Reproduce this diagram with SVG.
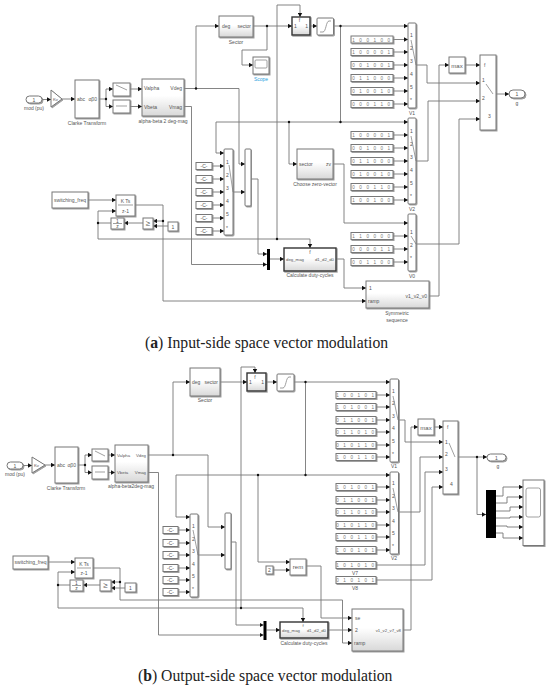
<svg xmlns="http://www.w3.org/2000/svg" width="550" height="689" viewBox="0 0 550 689">
<style>
text{font-family:"Liberation Sans",Arial,sans-serif;font-size:5px;fill:#555}
.m{text-anchor:middle}.e{text-anchor:end}
.s{font-size:4.3px}
.k{letter-spacing:1.6px;font-size:4.6px;text-anchor:middle;fill:#777}
.b{fill:#fff;stroke:#777;stroke-width:1;filter:url(#sh)}
.g{fill:url(#gr);stroke:#777;stroke-width:1;filter:url(#sh)}
.t{fill:url(#gr);stroke:#333;stroke-width:1.4;filter:url(#sh)}
.i{fill:#fff;stroke:#888;stroke-width:.8}
.d{fill:none;stroke:#777;stroke-width:.7}
.bk{fill:#000;stroke:none}
.c path{fill:none;stroke:#777;stroke-width:.9}
.c path.a{marker-end:url(#ar)}
.c circle{fill:#111;stroke:none}
.cap text{font-family:"Liberation Serif","Times New Roman",serif;font-size:15.7px;fill:#222}
.cap .bd{font-weight:bold}
.blue{fill:#2a9fe0}
</style>
<defs>
<linearGradient id="gr" x1="0" y1="0" x2="0" y2="1"><stop offset="0" stop-color="#fff"/><stop offset=".45" stop-color="#fff"/><stop offset="1" stop-color="#d8d8d8"/></linearGradient>
<filter id="sh" x="-10%" y="-10%" width="125%" height="125%"><feDropShadow dx="1" dy="1" stdDeviation=".4" flood-color="#888" flood-opacity=".8"/></filter>
<marker id="ar" markerUnits="userSpaceOnUse" markerWidth="5" markerHeight="5" refX="4" refY="2.5" orient="auto"><path d="M0 .3L4 2.5L0 4.7z" fill="#111"/></marker>
</defs>
<rect width="550" height="689" fill="#fff"/>

<g id="connectors" class="c">
<path class="a" d="M42 99.500H51"/>
<path class="a" d="M62 99H75"/>
<path d="M99 99H106"/>
<path class="a" d="M106 99V89H113"/>
<path class="a" d="M106 99V106.500H113"/>
<path class="a" d="M130 89H142"/>
<path class="a" d="M130 106.500H142"/>
<path class="a" d="M184 88.500H239V164H245"/>
<path class="a" d="M196 88.500V26H219"/>
<path class="a" d="M184 106.500H191.500V264.500H267"/>
<path class="a" d="M253 26H292"/>
<path class="a" d="M267 26V50H242V65H253"/>
<path class="a" d="M277 239V5H300V17"/>
<path class="a" d="M310 26H317"/>
<path class="a" d="M333.500 26H408"/>
<path d="M340.500 26V122"/>
<path class="a" d="M216 122V153H224"/>
<path class="a" d="M216 122H408"/>
<path class="a" d="M289 122V164H297"/>
<path class="a" d="M333 164H344V223H408"/>
<path class="a" d="M98 239H310V248"/>
<path class="a" d="M98 239V211H116"/>
<path d="M98 223H111"/>
<path class="a" d="M88 200H116"/>
<path class="a" d="M135 205H163V301H366"/>
<path class="a" d="M163 221H153"/>
<path class="a" d="M168 226H153"/>
<path class="a" d="M143 223H124"/>
<path class="a" d="M212 166H224"/><path class="a" d="M212 179H224"/><path class="a" d="M212 192H224"/><path class="a" d="M212 205H224"/><path class="a" d="M212 218H224"/><path class="a" d="M212 231H224"/>
<path class="a" d="M233 192H245"/>
<path class="a" d="M251 179H258V254H267"/>
<path class="a" d="M270 259H284"/>
<path class="a" d="M336 259H344V288H366"/>
<path class="a" d="M429 296H439V65H449"/>
<path class="a" d="M465 65H480"/>
<path class="a" d="M416 65H427V83H480"/>
<path class="a" d="M416 161H428V101H480"/>
<path class="a" d="M416 244H459V119H480"/>
<path class="a" d="M496 94H509"/>
<path class="a" d="M393 39.500H408"/><path class="a" d="M393 52H408"/><path class="a" d="M393 65H408"/><path class="a" d="M393 78H408"/><path class="a" d="M393 91H408"/><path class="a" d="M393 104H408"/>
<path class="a" d="M393 135H408"/><path class="a" d="M393 148H408"/><path class="a" d="M393 161H408"/><path class="a" d="M393 174H408"/><path class="a" d="M393 187H408"/><path class="a" d="M393 200H408"/>
<path class="a" d="M393 236H408"/><path class="a" d="M393 249H408"/><path class="a" d="M393 262H408"/>
<circle cx="106" cy="99" r="1.200"/><circle cx="196" cy="88.500" r="1.200"/><circle cx="267" cy="26" r="1.200"/><circle cx="340.500" cy="26" r="1.200"/><circle cx="340.500" cy="122" r="1.200"/><circle cx="289" cy="122" r="1.200"/><circle cx="277" cy="239" r="1.200"/><circle cx="98" cy="223" r="1.200"/><circle cx="163" cy="221" r="1.200"/>
<path class="a" d="M23 465.500H32"/>
<path class="a" d="M45 465H55"/>
<path d="M78 465H85"/>
<path class="a" d="M85 465V455H92"/>
<path class="a" d="M85 465V472.500H92"/>
<path class="a" d="M108 455H115"/>
<path class="a" d="M108 472.500H115"/>
<path class="a" d="M148 455H208V527H225"/>
<path class="a" d="M173 455V382H190"/>
<path class="a" d="M148 472.500H158.500V635H263.500"/>
<path class="a" d="M220 382H247"/>
<path class="a" d="M241 608V367H255V373"/>
<path class="a" d="M266 382H277"/>
<path class="a" d="M294 382H390"/>
<path d="M305.500 382V475"/>
<path class="a" d="M176 475V517H190"/>
<path class="a" d="M176 475H390"/>
<path class="a" d="M258 475V562H290"/>
<path class="a" d="M273 570H290"/>
<path class="a" d="M306 566H321V618H352"/>
<path class="a" d="M58 608H303V622"/>
<path class="a" d="M58 608V572H75"/>
<path d="M58 585H70"/>
<path class="a" d="M48 562H75"/>
<path class="a" d="M93 568H120V600H342.500V643H352"/>
<path class="a" d="M120 582H111"/>
<path class="a" d="M125 588H111"/>
<path class="a" d="M100 585H83"/>
<path class="a" d="M178 530H190"/><path class="a" d="M178 543H190"/><path class="a" d="M178 555H190"/><path class="a" d="M178 568H190"/><path class="a" d="M178 580H190"/><path class="a" d="M178 592H190"/>
<path class="a" d="M198 555H225"/>
<path class="a" d="M231 542H236V625H263.500"/>
<path class="a" d="M266.500 630H280"/>
<path class="a" d="M328 630H352"/>
<path class="a" d="M403 630H411V427H418"/>
<path class="a" d="M434 427H443"/>
<path class="a" d="M398 420H405V442H443"/>
<path class="a" d="M398 512H420V457H443"/>
<path class="a" d="M376 565H425V472H443"/>
<path class="a" d="M376 580H432V487H443"/>
<path class="a" d="M458 457H487"/>
<path class="a" d="M477 457V514.500H486"/>
<path class="a" d="M496 496H503V487H523"/>
<path class="a" d="M496 503H507V497H523"/>
<path class="a" d="M496 511H510V507H523"/>
<path class="a" d="M496 518H510V517H523"/>
<path class="a" d="M496 526H507V527H523"/>
<path class="a" d="M496 533H503V538H523"/>
<path class="a" d="M376 395H390"/><path class="a" d="M376 407H390"/><path class="a" d="M376 420H390"/><path class="a" d="M376 432H390"/><path class="a" d="M376 445H390"/><path class="a" d="M376 457H390"/>
<path class="a" d="M376 487H390"/><path class="a" d="M376 500H390"/><path class="a" d="M376 512H390"/><path class="a" d="M376 525H390"/><path class="a" d="M376 537H390"/><path class="a" d="M376 550H390"/>
<circle cx="85" cy="465" r="1.200"/><circle cx="173" cy="455" r="1.200"/><circle cx="305.500" cy="382" r="1.200"/><circle cx="305.500" cy="475" r="1.200"/><circle cx="258" cy="475" r="1.200"/><circle cx="241" cy="608" r="1.200"/><circle cx="58" cy="585" r="1.200"/><circle cx="120" cy="582" r="1.200"/><circle cx="477" cy="457" r="1.200"/>
</g>

<g id="a-inport"><rect class="b" x="26" y="96" width="16" height="7" rx="3.500"/><text class="m" x="34" y="101.500">1</text><text class="m" x="34" y="110">mod (pu)</text></g>
<g id="a-gain"><path class="b" d="M51 90L62 99L51 107z"/><text x="53" y="101" class="s">Kv</text></g>
<g id="a-clarke"><rect class="b" x="75" y="80" width="24" height="38"/><text x="77" y="101">abc</text><text class="e" x="97" y="101">αβ0</text><text class="m" x="87" y="124.500">Clarke Transform</text></g>
<g id="a-sw1"><rect class="b" x="113" y="83" width="17" height="13"/><path class="d" d="M116 85L127 90"/></g>
<g id="a-sw2"><rect class="b" x="113" y="100" width="17" height="13"/><path class="d" d="M116 106H127"/></g>
<g id="a-alpha"><rect class="g" x="142" y="79" width="42" height="37"/><text x="144" y="90">Valpha</text><text x="144" y="108.500">Vbeta</text><text class="e" x="182" y="90">Vdeg</text><text class="e" x="182" y="108.500">Vmag</text><text class="m" x="163" y="123">alpha-beta 2 deg-mag</text></g>
<g id="a-sector"><rect class="g" x="219" y="16" width="34" height="21"/><text x="222" y="28">deg</text><text class="e" x="251" y="28">sector</text><text class="m" x="236" y="43.500">Sector</text></g>
<g id="a-scope"><rect class="b" x="253" y="57" width="16" height="17"/><rect class="i" x="255" y="60" width="12" height="8" rx="1"/><text class="m blue" x="261" y="80.500">Scope</text></g>
<g id="a-switch"><rect class="t" x="292" y="17" width="18" height="18"/><text x="294" y="28">1</text><text class="e" x="308" y="28">1</text><text class="m" x="299.500" y="22">f</text></g>
<g id="a-sat"><rect class="b" x="317" y="18" width="16.500" height="17" rx="1"/><path class="d" d="M320 32H323C326 32 326 21 329 21H331"/></g>
<g id="a-mux1"><rect class="b" x="224" y="149" width="9" height="86" rx="1"/><text x="226" y="164">1</text><text x="226" y="177">2</text><text x="226" y="190">3</text><text x="226" y="203">4</text><text x="226" y="216">5</text><text x="226" y="230">*</text><path class="d" d="M229 165L233 192"/></g>
<g id="a-cc1"><rect class="b" x="196" y="162.500" width="16" height="7"/><text class="m" x="204" y="168">-C-</text></g>
<g id="a-cc2"><rect class="b" x="196" y="175.500" width="16" height="7"/><text class="m" x="204" y="181">-C-</text></g>
<g id="a-cc3"><rect class="b" x="196" y="188.500" width="16" height="7"/><text class="m" x="204" y="194">-C-</text></g>
<g id="a-cc4"><rect class="b" x="196" y="201.500" width="16" height="7"/><text class="m" x="204" y="207">-C-</text></g>
<g id="a-cc5"><rect class="b" x="196" y="214.500" width="16" height="7"/><text class="m" x="204" y="220">-C-</text></g>
<g id="a-cc6"><rect class="b" x="196" y="227.500" width="16" height="7"/><text class="m" x="204" y="233">-C-</text></g>
<g id="a-mux2"><rect class="b" x="245" y="149" width="6" height="57" rx="1"/></g>
<g id="a-bus"><rect class="bk" x="267" y="249" width="3" height="21"/></g>
<g id="a-duty"><rect class="t" x="284" y="248" width="52" height="23"/><text class="s" x="286" y="261">deg_mag</text><text class="e s" x="334" y="261">d1_d2_d0</text><text class="m" x="310" y="254">f</text><text class="m" x="310" y="277">Calculate duty-cycles</text></g>
<g id="a-zero"><rect class="g" x="297" y="149" width="36" height="30"/><text x="299" y="166">sector</text><text class="e" x="331" y="166">zv</text><text class="m" x="315" y="186">Choose zero-vector</text></g>
<g id="a-sym"><rect class="g" x="366" y="281" width="63" height="27"/><text x="369" y="290">1</text><text x="368" y="303">ramp</text><text class="e" x="427" y="298">v1_v2_v0</text><text class="m" x="397" y="315">Symmetric</text><text class="m" x="397" y="322">sequence</text></g>
<g id="a-switching"><rect class="b" x="52" y="192" width="36" height="16"/><text class="m" x="70" y="201.500">switching_freq</text></g>
<g id="a-integ"><rect class="b" x="116" y="195" width="19" height="21"/><text class="m" x="125.500" y="202.500">K Ts</text><path class="d" d="M118 205H133"/><text class="m" x="125.500" y="212.500">z-1</text></g>
<g id="a-unit"><rect class="b" x="111" y="218" width="13" height="11"/><text class="m" x="117.500" y="222.500">1</text><path class="d" d="M113 223.500H122"/><text class="m" x="117.500" y="228">z</text></g>
<g id="a-cmp"><rect class="b" x="143" y="218" width="10" height="11"/><text class="m" x="148" y="226" style="font-size:8px">≥</text></g>
<g id="a-one"><rect class="b" x="168" y="222" width="10" height="9"/><text class="m" x="173" y="228.500">1</text></g>
<g id="a-v1"><rect class="b" x="408" y="23" width="8" height="85" rx="1"/><text x="410" y="37">1</text><text x="410" y="50">2</text><text x="410" y="63">3</text><text x="410" y="76">4</text><text x="410" y="89">5</text><text x="410" y="102">*</text><path class="d" d="M411 40L416 65"/><text class="m" x="412" y="115">V1</text></g>
<g id="a-c1"><rect class="b" x="351" y="36" width="42" height="7"/><text class="k" x="372" y="41.500">1 0 0 1 0 0</text></g>
<g id="a-c2"><rect class="b" x="351" y="48.500" width="42" height="7"/><text class="k" x="372" y="54">1 0 0 0 0 1</text></g>
<g id="a-c3"><rect class="b" x="351" y="61.500" width="42" height="7"/><text class="k" x="372" y="67">0 0 1 0 0 1</text></g>
<g id="a-c4"><rect class="b" x="351" y="74.500" width="42" height="7"/><text class="k" x="372" y="80">0 1 1 0 0 0</text></g>
<g id="a-c5"><rect class="b" x="351" y="87.500" width="42" height="7"/><text class="k" x="372" y="93">0 1 0 0 1 0</text></g>
<g id="a-c6"><rect class="b" x="351" y="100.500" width="42" height="7"/><text class="k" x="372" y="106">0 0 0 1 1 0</text></g>
<g id="a-v2"><rect class="b" x="408" y="118" width="8" height="86" rx="1"/><text x="410" y="133">1</text><text x="410" y="146">2</text><text x="410" y="159">3</text><text x="410" y="172">4</text><text x="410" y="185">5</text><text x="410" y="198">*</text><path class="d" d="M411 136L416 161"/><text class="m" x="412" y="211">V2</text></g>
<g id="a-d1"><rect class="b" x="351" y="131.500" width="42" height="7"/><text class="k" x="372" y="137">1 0 0 0 0 1</text></g>
<g id="a-d2"><rect class="b" x="351" y="144.500" width="42" height="7"/><text class="k" x="372" y="150">0 0 1 0 0 1</text></g>
<g id="a-d3"><rect class="b" x="351" y="157.500" width="42" height="7"/><text class="k" x="372" y="163">0 1 1 0 0 0</text></g>
<g id="a-d4"><rect class="b" x="351" y="170.500" width="42" height="7"/><text class="k" x="372" y="176">0 1 0 0 1 0</text></g>
<g id="a-d5"><rect class="b" x="351" y="183.500" width="42" height="7"/><text class="k" x="372" y="189">0 0 0 1 1 0</text></g>
<g id="a-d6"><rect class="b" x="351" y="196.500" width="42" height="7"/><text class="k" x="372" y="202">1 0 0 1 0 0</text></g>
<g id="a-v0"><rect class="b" x="408" y="214" width="8" height="57" rx="1"/><text x="410" y="234">1</text><text x="410" y="247">2</text><text x="410" y="260">*</text><path class="d" d="M411 236L416 244"/><text class="m" x="412" y="278">V0</text></g>
<g id="a-e1"><rect class="b" x="351" y="232.500" width="42" height="7"/><text class="k" x="372" y="238">1 1 0 0 0 0</text></g>
<g id="a-e2"><rect class="b" x="351" y="245.500" width="42" height="7"/><text class="k" x="372" y="251">0 0 0 0 1 1</text></g>
<g id="a-e3"><rect class="b" x="351" y="258.500" width="42" height="7"/><text class="k" x="372" y="264">0 0 1 1 0 0</text></g>
<g id="a-max"><rect class="b" x="449" y="57" width="16" height="16"/><text class="m" x="457" y="67.500" style="font-size:6px">max</text></g>
<g id="a-out-sw"><rect class="b" x="480" y="55" width="16" height="75"/><text x="484" y="67">f</text><text x="482" y="82">1</text><text x="482" y="100">2</text><text x="488" y="118">3</text><path class="d" d="M486 84L493 94"/></g>
<g id="a-outport"><rect class="b" x="509" y="90" width="16" height="8" rx="4"/><text class="m" x="517" y="96">1</text><text class="m" x="517" y="105">g</text></g>

<g id="b-inport"><rect class="b" x="7" y="462" width="16" height="7" rx="3.500"/><text class="m" x="15" y="467.500">1</text><text class="m" x="15" y="476">mod (pu)</text></g>
<g id="b-gain"><path class="b" d="M32 457L45 465L32 473z"/><text x="34" y="467" class="s">Kv</text></g>
<g id="b-clarke"><rect class="b" x="55" y="447" width="23" height="36"/><text x="57" y="467">abc</text><text class="e" x="76" y="467">αβ0</text><text class="m" x="66" y="489.500">Clarke Transform</text></g>
<g id="b-sw1"><rect class="b" x="92" y="449" width="16" height="12"/><path class="d" d="M95 451L105 456"/></g>
<g id="b-sw2"><rect class="b" x="92" y="466" width="16" height="13"/><path class="d" d="M95 472H105"/></g>
<g id="b-alpha"><rect class="g" x="115" y="445" width="33" height="37"/><text class="s" x="117" y="457">Valpha</text><text class="s" x="117" y="474">Vbeta</text><text class="e s" x="146" y="457">Vdeg</text><text class="e s" x="146" y="474">Vmag</text><text class="m" x="131" y="488">alpha-beta2deg-mag</text></g>
<g id="b-sector"><rect class="g" x="190" y="368" width="30" height="28"/><text x="192" y="384">deg</text><text class="e" x="218" y="384">sector</text><text class="m" x="205" y="402">Sector</text></g>
<g id="b-switch"><rect class="t" x="247" y="373" width="19" height="18"/><text x="249" y="384">1</text><text class="e" x="264" y="384">1</text><text class="m" x="255" y="379">f</text></g>
<g id="b-sat"><rect class="b" x="277" y="374" width="17" height="17" rx="1"/><path class="d" d="M280 388H283C286 388 286 377 289 377H291"/></g>
<g id="b-mux1"><rect class="b" x="190" y="514" width="8" height="83" rx="1"/><text x="192" y="528">1</text><text x="192" y="541">2</text><text x="192" y="553">3</text><text x="192" y="566">4</text><text x="192" y="578">5</text><text x="192" y="591">*</text><path class="d" d="M193 530L198 555"/></g>
<g id="b-cc1"><rect class="b" x="163" y="526.500" width="15" height="7"/><text class="m" x="170.500" y="532">-C-</text></g>
<g id="b-cc2"><rect class="b" x="163" y="539.500" width="15" height="7"/><text class="m" x="170.500" y="545">-C-</text></g>
<g id="b-cc3"><rect class="b" x="163" y="551.500" width="15" height="7"/><text class="m" x="170.500" y="557">-C-</text></g>
<g id="b-cc4"><rect class="b" x="163" y="564.500" width="15" height="7"/><text class="m" x="170.500" y="570">-C-</text></g>
<g id="b-cc5"><rect class="b" x="163" y="576.500" width="15" height="7"/><text class="m" x="170.500" y="582">-C-</text></g>
<g id="b-cc6"><rect class="b" x="163" y="588.500" width="15" height="7"/><text class="m" x="170.500" y="594">-C-</text></g>
<g id="b-mux2"><rect class="b" x="225" y="513" width="6" height="56" rx="1"/></g>
<g id="b-bus"><rect class="bk" x="263.500" y="621" width="3" height="19"/></g>
<g id="b-duty"><rect class="t" x="280" y="622" width="48" height="16"/><text class="s" x="282" y="632">deg_mag</text><text class="e s" x="326" y="632">d1_d2_d0</text><text class="m s" x="303" y="627">f</text><text class="m" x="304" y="645">Calculate duty-cycles</text></g>
<g id="b-rem"><rect class="b" x="290" y="559" width="16" height="16"/><text class="m" x="298" y="568.500" style="font-size:6px">rem</text></g>
<g id="b-two"><rect class="b" x="266" y="566" width="7" height="8"/><text class="m" x="269.500" y="572">2</text></g>
<g id="b-sym"><rect class="g" x="352" y="609" width="51" height="42"/><text x="355" y="620">se</text><text x="355" y="632">2</text><text x="354" y="645">ramp</text><text class="e s" x="401" y="632">v1_v2_v7_v8</text></g>
<g id="b-switching"><rect class="b" x="13" y="556" width="35" height="13"/><text class="m" x="30.500" y="564">switching_freq</text></g>
<g id="b-integ"><rect class="b" x="75" y="558" width="18" height="20"/><text class="m" x="84" y="565.500">K Ts</text><path class="d" d="M77 568H91"/><text class="m" x="84" y="575">z-1</text></g>
<g id="b-unit"><rect class="b" x="70" y="580" width="13" height="11"/><text class="m" x="76.500" y="584.500">1</text><path class="d" d="M72 585.500H81"/><text class="m" x="76.500" y="590">z</text></g>
<g id="b-cmp"><rect class="b" x="100" y="580" width="11" height="11"/><text class="m" x="105.500" y="588" style="font-size:8px">≥</text></g>
<g id="b-one"><rect class="b" x="125" y="583" width="11" height="9"/><text class="m" x="130.500" y="589.500">1</text></g>
<g id="b-v1"><rect class="b" x="390" y="379" width="8.500" height="83" rx="1"/><text x="392" y="393">1</text><text x="392" y="405">2</text><text x="392" y="418">3</text><text x="392" y="430">4</text><text x="392" y="443">5</text><text x="392" y="456">*</text><path class="d" d="M393 396L398 420"/><text class="m" x="394" y="468">V1</text></g>
<g id="b-c1"><rect class="b" x="336" y="391.500" width="40" height="7"/><text class="k" x="356" y="397">1 0 0 1 0 1</text></g>
<g id="b-c2"><rect class="b" x="336" y="403.500" width="40" height="7"/><text class="k" x="356" y="409">1 0 1 0 0 1</text></g>
<g id="b-c3"><rect class="b" x="336" y="416.500" width="40" height="7"/><text class="k" x="356" y="422">0 1 1 0 0 1</text></g>
<g id="b-c4"><rect class="b" x="336" y="428.500" width="40" height="7"/><text class="k" x="356" y="434">0 1 1 0 1 0</text></g>
<g id="b-c5"><rect class="b" x="336" y="441.500" width="40" height="7"/><text class="k" x="356" y="447">0 1 0 1 1 0</text></g>
<g id="b-c6"><rect class="b" x="336" y="453.500" width="40" height="7"/><text class="k" x="356" y="459">1 0 0 1 1 0</text></g>
<g id="b-v2"><rect class="b" x="390" y="472" width="8.500" height="82" rx="1"/><text x="392" y="485">1</text><text x="392" y="498">2</text><text x="392" y="510">3</text><text x="392" y="523">4</text><text x="392" y="535">5</text><text x="392" y="548">*</text><path class="d" d="M393 488L398 512"/><text class="m" x="394" y="560">V2</text></g>
<g id="b-d1"><rect class="b" x="336" y="483.500" width="40" height="7"/><text class="k" x="356" y="489">1 0 1 0 0 1</text></g>
<g id="b-d2"><rect class="b" x="336" y="496.500" width="40" height="7"/><text class="k" x="356" y="502">0 1 1 0 0 1</text></g>
<g id="b-d3"><rect class="b" x="336" y="508.500" width="40" height="7"/><text class="k" x="356" y="514">0 1 1 0 1 0</text></g>
<g id="b-d4"><rect class="b" x="336" y="521.500" width="40" height="7"/><text class="k" x="356" y="527">0 1 0 1 1 0</text></g>
<g id="b-d5"><rect class="b" x="336" y="533.500" width="40" height="7"/><text class="k" x="356" y="539">1 0 0 1 1 0</text></g>
<g id="b-d6"><rect class="b" x="336" y="546.500" width="40" height="7"/><text class="k" x="356" y="552">1 0 0 1 0 1</text></g>
<g id="b-v7"><rect class="b" x="336" y="561.500" width="40" height="7"/><text class="k" x="356" y="567">1 0 1 0 1 0</text><text class="m" x="355" y="575">V7</text></g>
<g id="b-v8"><rect class="b" x="336" y="576.500" width="40" height="7"/><text class="k" x="356" y="582">0 1 0 1 0 1</text><text class="m" x="355" y="590">V8</text></g>
<g id="b-max"><rect class="b" x="418" y="419" width="16" height="16"/><text class="m" x="426" y="429.500" style="font-size:6px">max</text></g>
<g id="b-out-sw"><rect class="b" x="443" y="421" width="15" height="73"/><text x="447" y="429">f</text><text x="445" y="444">1</text><text x="445" y="456">2</text><text x="445" y="471">3</text><text x="450" y="486">4</text><path class="d" d="M449 443L455 457"/></g>
<g id="b-outport"><rect class="b" x="487" y="454" width="19" height="7" rx="3.500"/><text class="m" x="496.500" y="459.500">1</text><text class="m" x="498" y="468">g</text></g>
<g id="b-demux"><rect class="bk" x="486" y="490" width="10" height="48"/></g>
<g id="b-scope"><rect class="b" x="523" y="480" width="21" height="65.500"/><rect class="i" x="526" y="488" width="14.500" height="29" rx="2"/></g>

<g id="captions" class="cap">
<text x="145" y="348">(<tspan class="bd">a</tspan>) Input-side space vector modulation</text>
<text x="138" y="681">(<tspan class="bd">b</tspan>) Output-side space vector modulation</text>
</g>
</svg>
